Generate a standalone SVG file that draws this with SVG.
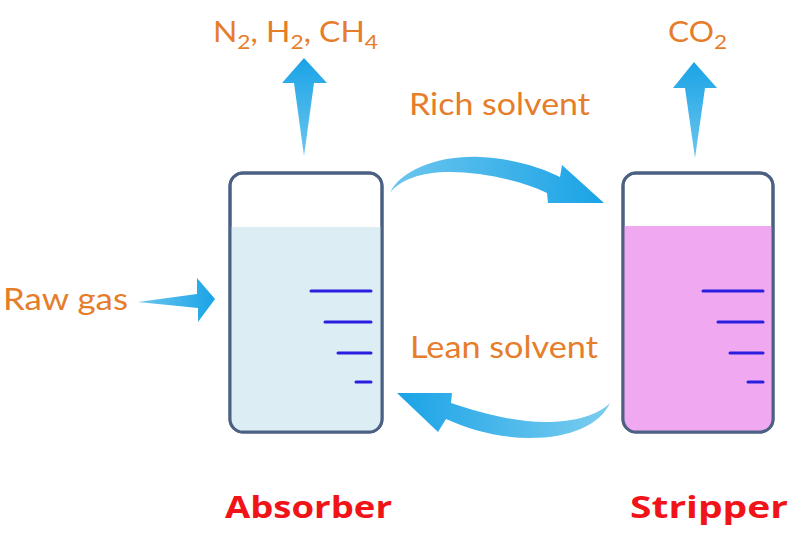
<svg xmlns="http://www.w3.org/2000/svg" width="800" height="533" viewBox="0 0 800 533">
<style>
.lbl{font-family:Lato,"Open Sans","Liberation Sans",sans-serif;fill:#E57D2B;}
.title{font-family:"Open Sans","Liberation Sans",sans-serif;font-weight:bold;fill:#F01418;font-size:30px;}
.box{stroke:#4B6083;stroke-width:3;fill:#ffffff;}
.tick{stroke:#2A1FE0;stroke-width:3;stroke-linecap:round;}
</style>
<defs>
<linearGradient id="gUp" x1="0" y1="1" x2="0" y2="0">
<stop offset="0" stop-color="#6cc6ee"/>
<stop offset="1" stop-color="#1aa3e6"/>
</linearGradient>
<linearGradient id="gRight" x1="0" y1="0" x2="1" y2="0">
<stop offset="0" stop-color="#6cc6ee"/>
<stop offset="1" stop-color="#1aa3e6"/>
</linearGradient>
<linearGradient id="gLeft" x1="1" y1="0" x2="0" y2="0">
<stop offset="0" stop-color="#7ccdef"/>
<stop offset="1" stop-color="#1aa3e6"/>
</linearGradient>
<clipPath id="c1"><rect x="230" y="173" width="152" height="259" rx="13"/></clipPath>
<clipPath id="c2"><rect x="623" y="173" width="150" height="259" rx="13"/></clipPath>
</defs>

<g id="absorber">
<rect class="box" x="230" y="173" width="152" height="259" rx="13"/>
<rect x="230" y="227" width="152" height="210" fill="#DCEDF3" clip-path="url(#c1)"/>
<rect x="230" y="173" width="152" height="259" rx="13" fill="none" stroke="#4B6083" stroke-width="3"/>
<line class="tick" x1="311" y1="291" x2="371" y2="291"/>
<line class="tick" x1="325" y1="322" x2="371" y2="322"/>
<line class="tick" x1="338" y1="353" x2="371" y2="353"/>
<line class="tick" x1="356" y1="382" x2="371" y2="382"/>
<text class="title" x="225" y="518" textLength="167" lengthAdjust="spacingAndGlyphs">Absorber</text>
</g>

<g id="stripper">
<rect class="box" x="623" y="173" width="150" height="259" rx="13"/>
<rect x="623" y="226" width="150" height="210" fill="#F0A8F0" clip-path="url(#c2)"/>
<rect x="623" y="173" width="150" height="259" rx="13" fill="none" stroke="#4B6083" stroke-width="3"/>
<line class="tick" x1="703" y1="291" x2="763" y2="291"/>
<line class="tick" x1="718" y1="322" x2="763" y2="322"/>
<line class="tick" x1="730" y1="353" x2="763" y2="353"/>
<line class="tick" x1="748" y1="382" x2="763" y2="382"/>
<text class="title" x="630" y="518" textLength="158" lengthAdjust="spacingAndGlyphs">Stripper</text>
</g>

<g id="raw-gas">
<text class="lbl" x="3" y="310" font-size="30" textLength="125" lengthAdjust="spacingAndGlyphs">Raw gas</text>
</g>

<g id="top-gases">
<text class="lbl" x="213" y="42" font-size="28" textLength="165" lengthAdjust="spacingAndGlyphs">N<tspan font-size="20" dy="7">2</tspan><tspan dy="-7">, H</tspan><tspan font-size="20" dy="7">2</tspan><tspan dy="-7">, CH</tspan><tspan font-size="20" dy="7">4</tspan></text>
</g>

<g id="co2">
<text class="lbl" x="668" y="42" font-size="28" textLength="59" lengthAdjust="spacingAndGlyphs">CO<tspan font-size="20" dy="7">2</tspan></text>
</g>

<g id="connectors">
<path d="M304,58 L327,83 L314,83 L304,156 L294,83 L282,83 Z" fill="url(#gUp)"/>
<path d="M694,62 L717,88 L705,88 L695,158 L685,88 L673,88 Z" fill="url(#gUp)"/>
<path d="M138,302 L197,294 L197,278 L215,299 L198,322 L198,308 Z" fill="url(#gRight)"/>
<path d="M390,193 C400,170 440,155 480,157 C515,159 540,167 560,177 L562,165 L604,203 L548,203 L547,193 C520,180 480,172 450,172 C420,172 400,180 390,193 Z" fill="url(#gRight)"/>
<path d="M610,403 C600,425 570,438 530,438 C500,438 470,430 446,419 L438,432 L397,393 L452,393 L451,403 C480,413 515,422 545,422 C575,422 598,415 610,403 Z" fill="url(#gLeft)"/>
<text class="lbl" x="409" y="115" font-size="30" textLength="181" lengthAdjust="spacingAndGlyphs">Rich solvent</text>
<text class="lbl" x="410" y="358" font-size="30" textLength="188" lengthAdjust="spacingAndGlyphs">Lean solvent</text>
</g>
</svg>
